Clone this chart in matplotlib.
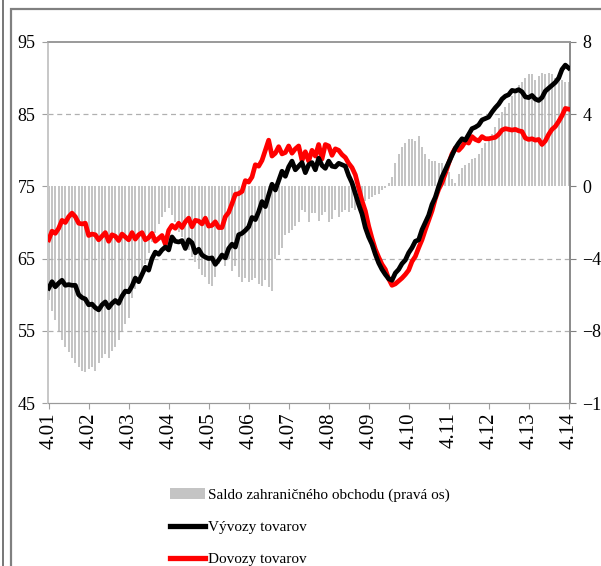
import matplotlib
matplotlib.use("Agg")
import matplotlib.pyplot as plt
from matplotlib.patches import Patch, Rectangle
from matplotlib.lines import Line2D
import numpy as np

plt.rcParams['font.family'] = ['Liberation Serif', 'DejaVu Serif']

# mesacne hodnoty od 4.2001 do 4.2014
vyvoz = [
    60.9, 61.8, 61.1, 61.6, 62.0, 61.3, 61.4, 61.3, 61.3, 60.0,
    59.6, 59.4, 58.6, 58.7, 58.2, 57.9, 58.6, 59.0, 58.2, 58.8,
    59.2, 58.8, 59.8, 60.5, 60.4, 61.2, 62.3, 61.8, 62.8, 63.8,
    63.4, 65.0, 65.9, 65.6, 66.2, 66.6, 66.2, 68.0, 67.4, 67.3,
    67.5, 66.4, 67.6, 67.2, 65.8, 66.3, 65.5, 65.2, 65.0, 65.1,
    64.2, 64.8, 65.5, 65.1, 66.4, 67.0, 66.6, 68.3, 68.5, 68.9,
    69.4, 70.7, 70.4, 71.5, 72.9, 72.2, 73.8, 75.3, 74.5, 75.8,
    77.1, 76.4, 77.7, 78.5, 77.3, 77.8, 78.3, 76.9, 78.0, 78.3,
    77.3, 78.9, 77.9, 77.5, 78.5, 77.8, 77.7, 78.2, 78.0, 77.8,
    76.5, 75.5, 74.0, 72.5, 71.2, 69.3, 68.0, 67.0, 65.6, 64.4,
    63.5, 62.8, 62.2, 62.0, 63.0, 63.5, 64.3, 64.8, 65.8, 66.5,
    67.4, 67.6, 69.0, 70.0, 71.0, 72.5, 73.5, 75.0, 76.3, 77.3,
    78.3, 79.3, 80.3, 81.0, 81.6, 81.4, 82.2, 83.0, 83.2, 83.5,
    84.2, 84.4, 84.6, 85.3, 85.9, 86.4, 87.1, 87.5, 87.7, 88.3,
    88.2, 88.4, 88.1, 87.4, 87.3, 87.6, 87.1, 86.9, 87.3, 88.2,
    88.6, 89.0, 89.4, 90.0, 91.2, 91.8, 91.4,
]

dovoz = [
    67.6, 68.8, 68.5, 69.2, 70.3, 70.0, 70.8, 71.3, 70.8, 69.9,
    69.8, 69.9, 68.2, 68.4, 68.3, 67.6, 68.1, 68.6, 67.4, 68.3,
    68.1, 67.5, 68.4, 68.0, 67.6, 68.6, 67.7, 68.3, 68.6, 67.6,
    67.9, 68.5, 67.4, 67.8, 68.2, 67.0, 68.9, 69.6, 69.2, 69.9,
    69.3, 70.1, 70.6, 69.4, 70.3, 70.2, 69.8, 70.6, 69.5, 69.6,
    70.1, 69.3, 69.3, 70.8, 71.4, 72.6, 73.9, 74.0, 74.3, 75.8,
    75.6, 76.3, 78.0, 77.8, 78.6, 80.0, 81.4, 79.2, 79.6, 80.5,
    79.5, 79.7, 80.6, 79.6, 80.2, 80.6, 78.6, 79.8, 78.5, 80.0,
    79.2, 80.8, 78.8, 80.8, 80.6, 79.3, 80.2, 80.0, 79.4, 79.0,
    78.2, 77.6, 76.6, 74.8, 73.0, 71.6, 69.5, 67.8, 66.3, 65.2,
    64.2, 63.5, 62.2, 61.3, 61.5, 61.9, 62.3, 62.8, 63.4, 64.6,
    65.3, 66.5, 67.6, 69.0, 70.3, 71.6, 73.3, 74.6, 75.5, 76.8,
    78.2, 79.5, 80.3, 80.0, 80.5, 81.2, 81.0, 81.9, 81.5, 81.3,
    81.9, 81.6, 81.6, 81.7, 81.8, 82.2, 82.8, 83.0, 82.9, 82.8,
    82.9, 82.7, 82.6, 81.7, 81.5, 81.6, 81.4, 81.5, 80.8, 81.3,
    82.2, 82.9, 83.3, 84.0, 84.8, 85.8, 85.7,
]

saldo = [
    -6.3, -6.9, -7.4, -8.0, -8.5, -8.9, -9.2, -9.5, -9.8, -10.0,
    -10.2, -10.3, -10.1, -10.0, -10.2, -9.8, -9.5, -9.3, -9.5, -9.1,
    -8.9, -8.5, -8.0, -7.6, -7.3, -6.2, -5.7, -5.3, -4.9, -4.3,
    -3.7, -3.1, -2.6, -2.1, -1.7, -1.4, -1.2, -1.6, -2.0, -2.5,
    -2.8, -3.2, -3.5, -3.9, -4.2, -4.6, -4.9, -5.0, -5.4, -5.5,
    -5.0, -4.3, -4.1, -4.4, -4.0, -4.7, -4.4, -5.0, -5.3, -5.1,
    -5.3, -5.2, -5.1, -5.4, -5.5, -5.2, -5.6, -5.8, -4.0, -3.8,
    -3.4, -2.7, -2.6, -2.4, -2.2, -2.0, -1.3, -1.4, -2.0, -1.5,
    -1.5, -1.9, -1.6, -1.4, -2.0, -1.8, -1.3, -1.7, -1.4, -1.3,
    -1.4, -1.2, -1.3, -1.1, -1.1, -0.8, -0.7, -0.6, -0.5, -0.4,
    -0.2, -0.1, 0.2, 0.5, 1.3, 1.8, 2.2, 2.4, 2.6, 2.6,
    2.5, 2.8, 2.2, 1.8, 1.5, 1.4, 1.4, 1.3, 1.3, 1.1,
    0.8, 0.4, 0.2, 0.7, 1.0, 1.2, 1.3, 1.5, 1.6, 1.8,
    2.1, 2.4, 2.7, 2.9, 3.3, 3.8, 4.1, 4.4, 4.6, 5.0,
    5.3, 5.6, 5.8, 6.0, 6.2, 6.2, 5.9, 6.1, 6.3, 6.2,
    6.3, 6.2, 6.0, 6.1, 5.9, 5.8, 5.8,
]

roky = ['4.01', '4.02', '4.03', '4.04', '4.05', '4.06', '4.07',
        '4.08', '4.09', '4.10', '4.11', '4.12', '4.13', '4.14']

W, H = 601, 566
fig = plt.figure(figsize=(W / 100, H / 100), dpi=100)

# ramceky okolo grafu
fig.add_artist(Line2D([3 / W, 3 / W], [0, 1], color='#606060', lw=1.2))
fig.add_artist(Rectangle((11 / W, -0.1), 1.2, 1 - 9 / H + 0.1, fill=False,
                         edgecolor='#808080', lw=1.6))

ax = fig.add_axes([48 / W, 1 - 403 / H, 522 / W, 361 / H])
ax2 = ax.twinx()

mesiace = np.arange(len(vyvoz))

ax2.bar(mesiace, saldo, width=0.55, color='#c4c4c4', zorder=2)
ax.plot(mesiace, vyvoz, color='black', lw=3.4, zorder=4)
ax.plot(mesiace, dovoz, color='#ff0000', lw=3.4, zorder=3)

ax.set_zorder(ax2.get_zorder() + 1)
ax.patch.set_visible(False)

ax.set_xlim(-0.2, 156.4)
ax.set_ylim(45, 95)
ax2.set_ylim(-12, 8)
ax.set_yticks([45, 55, 65, 75, 85, 95])
ax2.set_yticks([-12, -8, -4, 0, 4, 8])
ax.set_xticks(np.arange(0, 157, 12))
ax.set_xticklabels(roky, rotation=90, fontsize=15)

for v in [55, 65, 85]:
    ax.axhline(v, color='#b0b0b0', lw=0.9, ls=(0, (4, 3)), zorder=1)

ax.tick_params(axis='y', labelsize=13, length=4, pad=5, color='#a0a0a0')
ax2.tick_params(axis='y', labelsize=13, length=4, pad=5, color='#808080')
ax.tick_params(axis='x', length=4, pad=3, color='#a0a0a0')

for a in (ax, ax2):
    a.spines['left'].set_color('#c8c8c8')
    a.spines['right'].set_color('#8a8a8a')
    a.spines['top'].set_color('#9a9a9a')
    a.spines['bottom'].set_color('#9a9a9a')
    a.spines['left'].set_linewidth(1.4)
    a.spines['right'].set_linewidth(1.2)
    a.spines['top'].set_linewidth(1.2)

handles = [
    Patch(facecolor='#c4c4c4', edgecolor='none'),
    Line2D([], [], color='black', lw=3.8),
    Line2D([], [], color='#ff0000', lw=3.8),
]
labels = ['Saldo zahraničného obchodu (pravá os)', 'Vývozy tovarov', 'Dovozy tovarov']
fig.legend(handles, labels, loc='upper left', bbox_to_anchor=(164 / W, 1 - 482 / H),
           frameon=False, fontsize=11, handlelength=2.3, handletextpad=0.15,
           labelspacing=1.2, borderaxespad=0)

fig.savefig('out.png', dpi=100)
